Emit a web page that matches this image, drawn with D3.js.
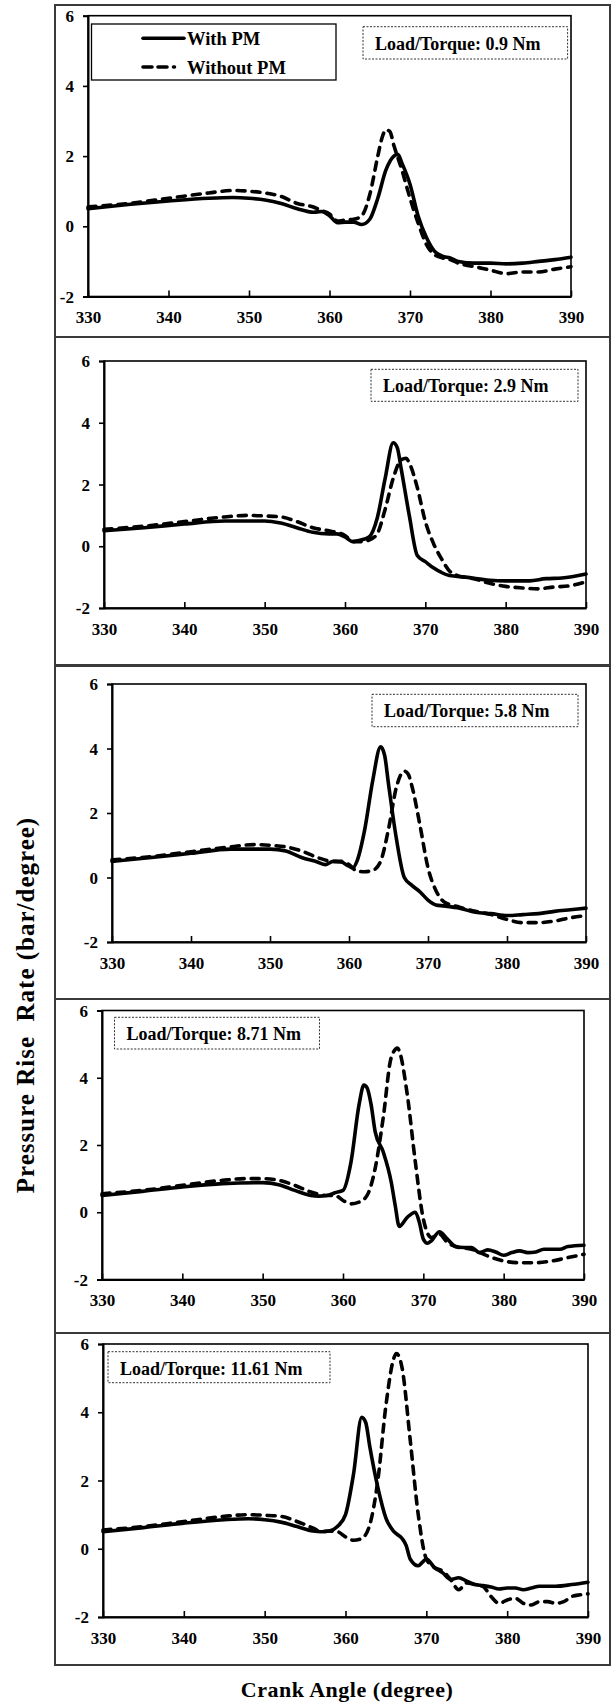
<!DOCTYPE html>
<html>
<head>
<meta charset="utf-8">
<script src="https://cdn.jsdelivr.net/npm/d3@7"></script>
<style>
  html, body { margin: 0; padding: 0; background: #fff; }
  svg { display: block; }
  text { font-family: "Liberation Serif", "Times New Roman", serif; font-weight: bold; fill: #000; }
</style>
</head>
<body>
<svg id="chart" width="611" height="1707"></svg>
<script>
// ---------- data ----------
const xTicks = [330, 340, 350, 360, 370, 380, 390];
const yTicks = [-2, 0, 2, 4, 6];
const seriesNames = ["With PM", "Without PM"];
const loadLabels = ["Load/Torque: 0.9 Nm", "Load/Torque: 2.9 Nm", "Load/Torque: 5.8 Nm", "Load/Torque: 8.71 Nm", "Load/Torque: 11.61 Nm"];
const xTitle = "Crank Angle (degree)";
const yTitle = "Pressure Rise  Rate (bar/degree)";

// Panel 1 (0.9 Nm)
const p1With = [[330,0.5],[335,0.62],[340,0.72],[345,0.8],[348,0.82],[350,0.8],[352,0.75],[354,0.65],[356,0.5],[358,0.4],[359,0.42],[360,0.3],[361,0.1],[362,0.12],[363,0.12],[364,0.05],[365,0.2],[366,0.8],[367,1.6],[368,2.0],[368.5,2.05],[369,1.8],[370,1.2],[371,0.3],[372,-0.3],[373,-0.7],[374,-0.85],[375,-0.9],[376,-1.0],[378,-1.05],[380,-1.05],[382,-1.07],[384,-1.05],[386,-1.0],[388,-0.95],[390,-0.88]];
const p1Without = [[330,0.55],[335,0.65],[340,0.8],[345,0.95],[348,1.02],[350,1.0],[352,0.95],[354,0.85],[356,0.65],[358,0.55],[359,0.45],[360,0.35],[361,0.15],[362,0.18],[363,0.2],[364,0.3],[365,0.9],[366,2.0],[366.5,2.5],[367,2.75],[367.5,2.7],[368,2.3],[369,1.6],[370,0.8],[371,0.1],[372,-0.5],[373,-0.8],[374,-0.9],[375,-0.95],[376,-1.05],[378,-1.15],[380,-1.25],[382,-1.35],[384,-1.3],[386,-1.3],[388,-1.22],[390,-1.15]];
// Panel 2 (2.9 Nm)
const p2With = [[330,0.5],[335,0.6],[340,0.72],[345,0.82],[350,0.82],[352,0.75],[354,0.6],[356,0.45],[358,0.4],[359,0.4],[360,0.3],[361,0.15],[362,0.2],[363,0.3],[364,0.9],[365,2.2],[366,3.35],[366.5,3.2],[367,2.5],[368,1.0],[369,-0.3],[370,-0.5],[371,-0.7],[372,-0.85],[373,-0.95],[375,-1.0],[378,-1.1],[380,-1.12],[383,-1.12],[385,-1.05],[387,-1.03],[390,-0.9]];
const p2Without = [[330,0.55],[335,0.65],[340,0.8],[345,0.95],[348,1.0],[350,0.98],[352,0.95],[354,0.8],[356,0.6],[358,0.5],[360,0.35],[361,0.15],[362,0.15],[363,0.2],[364,0.4],[365,1.2],[366,2.2],[367,2.8],[367.6,2.85],[368,2.7],[369,1.9],[370,0.8],[371,0.1],[372,-0.4],[373,-0.8],[374,-0.95],[376,-1.05],[378,-1.2],[380,-1.3],[382,-1.35],[384,-1.38],[386,-1.32],[388,-1.28],[390,-1.15]];
// Panel 3 (5.8 Nm)
const p3With = [[330,0.5],[335,0.62],[340,0.75],[345,0.88],[350,0.88],[352,0.82],[354,0.62],[356,0.48],[357,0.4],[358,0.5],[359,0.48],[360,0.35],[360.5,0.3],[361,0.5],[362,1.5],[363,3.0],[364,4.05],[364.5,3.8],[365,2.9],[366,1.2],[367,0.0],[368,-0.25],[369,-0.45],[370,-0.7],[371,-0.85],[372,-0.88],[374,-0.95],[376,-1.08],[378,-1.12],[380,-1.18],[382,-1.15],[384,-1.12],[386,-1.05],[388,-1.0],[390,-0.95]];
const p3Without = [[330,0.55],[335,0.65],[340,0.8],[345,0.95],[348,1.02],[350,1.0],[352,0.95],[354,0.82],[356,0.62],[358,0.5],[359,0.5],[360,0.4],[361,0.2],[362,0.18],[363,0.22],[364,0.5],[365,1.5],[366,2.8],[367,3.3],[367.5,3.2],[368,2.8],[369,1.6],[370,0.3],[371,-0.4],[372,-0.75],[374,-0.92],[376,-1.05],[378,-1.15],[380,-1.3],[382,-1.4],[384,-1.4],[386,-1.35],[388,-1.25],[390,-1.18]];
// Panel 4 (8.71 Nm)
const p4With = [[330,0.5],[335,0.62],[340,0.75],[345,0.85],[350,0.88],[352,0.82],[354,0.65],[356,0.5],[357,0.48],[358,0.5],[359,0.58],[360,0.65],[361,1.5],[362,3.2],[362.6,3.78],[363,3.7],[363.5,3.2],[364,2.4],[365,1.8],[366,0.9],[366.5,0.2],[367,-0.42],[368,-0.15],[369,0.0],[369.5,-0.3],[370,-0.8],[370.5,-0.92],[371,-0.85],[372,-0.58],[373,-0.8],[374,-1.02],[375,-1.05],[376,-1.05],[377,-1.2],[378,-1.12],[379,-1.18],[380,-1.28],[381,-1.2],[382,-1.15],[383,-1.2],[384,-1.18],[385,-1.1],[387,-1.1],[388,-1.02],[390,-0.98]];
const p4Without = [[330,0.55],[335,0.65],[340,0.8],[345,0.95],[348,1.0],[350,1.0],[352,0.95],[354,0.8],[356,0.6],[358,0.5],[359,0.5],[360,0.35],[361,0.25],[362,0.3],[363,0.5],[364,1.3],[365,2.8],[366,4.6],[366.8,4.88],[367,4.8],[368,3.5],[369,1.5],[370,-0.2],[371,-0.75],[372,-0.65],[373,-0.9],[374,-1.02],[376,-1.1],[378,-1.3],[380,-1.45],[382,-1.5],[384,-1.5],[386,-1.45],[388,-1.35],[390,-1.25]];
// Panel 5 (11.61 Nm)
const p5With = [[330,0.5],[335,0.62],[340,0.75],[345,0.85],[348,0.88],[350,0.85],[352,0.78],[354,0.65],[356,0.52],[357,0.5],[358,0.52],[359,0.65],[360,1.0],[361,2.2],[362,3.85],[362.5,3.7],[363,3.0],[364,1.8],[365,0.9],[366,0.5],[367,0.3],[367.5,0.1],[368,-0.3],[369,-0.5],[369.5,-0.4],[370,-0.3],[371,-0.55],[372,-0.7],[373,-0.9],[374,-0.85],[375,-0.95],[376,-1.05],[377,-1.08],[378,-1.12],[379,-1.18],[380,-1.15],[381,-1.15],[382,-1.2],[383,-1.15],[384,-1.1],[385,-1.1],[386,-1.1],[388,-1.05],[390,-0.98]];
const p5Without = [[330,0.55],[335,0.65],[340,0.8],[345,0.95],[348,1.0],[350,0.98],[352,0.95],[354,0.8],[356,0.6],[357,0.5],[358,0.52],[359,0.5],[360,0.35],[361,0.25],[362,0.3],[363,0.7],[364,2.0],[365,4.2],[366,5.6],[366.3,5.72],[367,5.3],[368,3.2],[369,1.0],[370,-0.3],[371,-0.55],[372,-0.65],[373,-0.9],[374,-1.2],[375,-1.0],[376,-1.05],[377,-1.1],[378,-1.4],[379,-1.6],[380,-1.5],[381,-1.45],[382,-1.6],[383,-1.65],[384,-1.55],[385,-1.55],[386,-1.6],[387,-1.55],[388,-1.4],[389,-1.35],[390,-1.32]];

const panelSeries = [[p1With, p1Without], [p2With, p2Without], [p3With, p3Without], [p4With, p4Without], [p5With, p5Without]];

// ---------- layout ----------
const layout = [
  { box: [55, 5, 610, 337],     plot: [88, 15.7, 571, 296.5],  tag: [363, 26.7, 567.6, 59] },
  { box: [55, 337, 610, 665],   plot: [104, 361, 586, 608],    tag: [371, 369.3, 578, 401.3] },
  { box: [55, 666, 610, 999],   plot: [112, 684, 586, 942],    tag: [372, 694.3, 578, 726.7] },
  { box: [55, 999, 610, 1333],  plot: [102, 1010.5, 584, 1279.5], tag: [114.5, 1017.3, 319.5, 1049] },
  { box: [55, 1333, 610, 1665], plot: [103, 1344, 588, 1617],  tag: [108, 1351.7, 330, 1382.7] }
];

const FONT = '"Liberation Serif","Times New Roman",serif';
const svg = d3.select("#chart");
svg.append("rect").attr("width", 611).attr("height", 1707).attr("fill", "#fff");

layout.forEach((L, i) => {
  const [bx0, by0, bx1, by1] = L.box;
  const [px0, py0, px1, py1] = L.plot;
  const g = svg.append("g");

  g.append("rect")
    .attr("x", bx0).attr("y", by0).attr("width", bx1 - bx0).attr("height", by1 - by0)
    .attr("fill", "none").attr("stroke", "#3a3a3a").attr("stroke-width", 2);

  const x = d3.scaleLinear().domain([330, 390]).range([px0, px1]);
  const y = d3.scaleLinear().domain([-2, 6]).range([py1, py0]);

  // frame
  g.append("rect")
    .attr("x", px0).attr("y", py0).attr("width", px1 - px0).attr("height", py1 - py0)
    .attr("fill", "none").attr("stroke", "#000").attr("stroke-width", 1.6);

  // x axis: ticks pointing inward (up)
  const xAxis = g.append("g").attr("transform", `translate(0,${py1})`)
    .call(d3.axisBottom(x).tickValues(xTicks).tickSize(0).tickPadding(0).tickFormat(d => String(d)));
  xAxis.attr("font-family", FONT);
  xAxis.select(".domain").attr("stroke", "#000").attr("stroke-width", 2);
  xAxis.selectAll(".tick line").attr("y2", -6).attr("stroke", "#000").attr("stroke-width", 1.6);
  xAxis.selectAll(".tick text").attr("font-size", 17).attr("dy", 0).attr("y", 26.5)
    .style("font-family", FONT).style("font-weight", "bold").attr("fill", "#000");

  // y axis: ticks pointing outward
  const yAxis = g.append("g").attr("transform", `translate(${px0},0)`)
    .call(d3.axisLeft(y).tickValues(yTicks).tickSize(5).tickPadding(9).tickFormat(d => String(d)));
  yAxis.attr("font-family", FONT);
  yAxis.select(".domain").attr("stroke", "#000").attr("stroke-width", 2);
  yAxis.selectAll(".tick line").attr("stroke", "#000").attr("stroke-width", 1.6);
  yAxis.selectAll(".tick text").attr("font-size", 17).attr("dy", "0.33em")
    .style("font-family", FONT).style("font-weight", "bold").attr("fill", "#000");

  // lines
  const line = d3.line().x(d => x(d[0])).y(d => y(d[1])).curve(d3.curveMonotoneX);
  const [sWith, sWithout] = panelSeries[i];
  g.append("path").datum(sWithout).attr("d", line)
    .attr("fill", "none").attr("stroke", "#000").attr("stroke-width", 3.6)
    .attr("stroke-dasharray", "8,7").attr("stroke-linecap", "round").attr("stroke-linejoin", "round");
  g.append("path").datum(sWith).attr("d", line)
    .attr("fill", "none").attr("stroke", "#000").attr("stroke-width", 3.6)
    .attr("stroke-linecap", "round").attr("stroke-linejoin", "round");

  // load tag
  const [tx0, ty0, tx1, ty1] = L.tag;
  g.append("rect").attr("x", tx0).attr("y", ty0).attr("width", tx1 - tx0).attr("height", ty1 - ty0)
    .attr("fill", "#fff").attr("stroke", "#333").attr("stroke-width", 1).attr("stroke-dasharray", "2,1.5");
  g.append("text").attr("x", tx0 + 12).attr("y", ty0 + 23).attr("font-size", 18).text(loadLabels[i]);

  // legend in first panel
  if (i === 0) {
    const lg = g.append("g");
    lg.append("rect").attr("x", 91.5).attr("y", 24).attr("width", 244.5).attr("height", 56)
      .attr("fill", "#fff").attr("stroke", "#000").attr("stroke-width", 1.3);
    lg.append("line").attr("x1", 143).attr("x2", 184).attr("y1", 38.3).attr("y2", 38.3)
      .attr("stroke", "#000").attr("stroke-width", 3.6).attr("stroke-linecap", "round");
    lg.append("text").attr("x", 187).attr("y", 44.5).attr("font-size", 18.5).text(seriesNames[0]);
    lg.append("line").attr("x1", 143).attr("x2", 184).attr("y1", 67).attr("y2", 67)
      .attr("stroke", "#000").attr("stroke-width", 3.6).attr("stroke-linecap", "round")
      .attr("stroke-dasharray", "9,6,9,6.5,1,20");
    lg.append("text").attr("x", 187).attr("y", 73.5).attr("font-size", 18.5).text(seriesNames[1]);
  }
});

// axis titles
svg.append("text").attr("x", 347).attr("y", 1697).attr("text-anchor", "middle")
  .attr("font-size", 22).attr("letter-spacing", 0.5).text(xTitle);
svg.append("text").attr("transform", "translate(34,1005) rotate(-90)").attr("text-anchor", "middle")
  .attr("font-size", 25).attr("letter-spacing", 1).style("white-space", "pre").text(yTitle);
</script>
</body>
</html>
